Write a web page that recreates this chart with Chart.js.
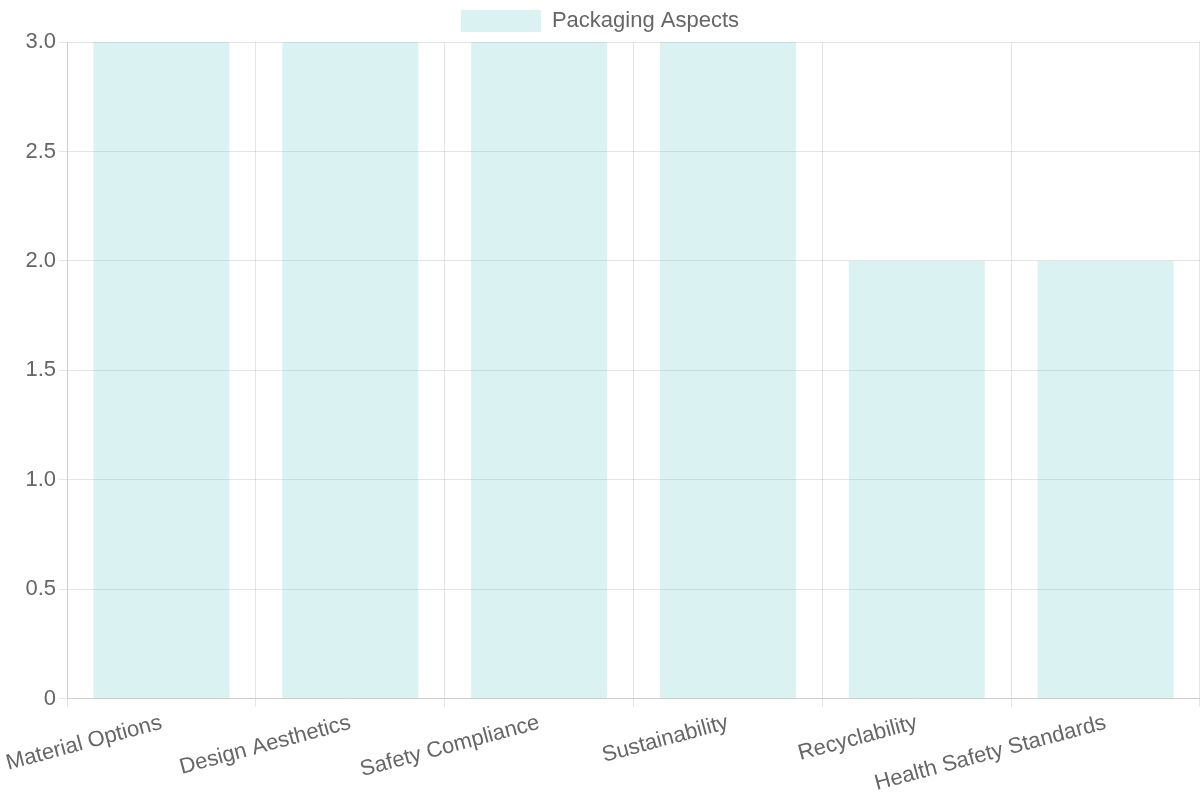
<!DOCTYPE html>
<html><head><meta charset="utf-8">
<script src="https://cdn.jsdelivr.net/npm/chart.js@4"></script>
<style>html,body{margin:0;padding:0;background:#fff}#w{width:1200px;height:800px}</style>
</head><body><div id="w"><canvas id="c"></canvas></div>
<script>
const categories = ["Material Options","Design Aesthetics","Safety Compliance","Sustainability","Recyclability","Health Safety Standards"];
const values = [3,3,3,3,2,2];
const seriesLabel = "Packaging Aspects";
Chart.defaults.font.family = "Liberation Sans, Arial, sans-serif";
Chart.defaults.font.size = 20;
Chart.defaults.color = "#666";
new Chart(document.getElementById('c'), {
  type: 'bar',
  data: { labels: categories, datasets: [{ label: seriesLabel, data: values,
    backgroundColor: 'rgba(75,192,192,0.2)', borderWidth: 0 }] },
  options: {
    responsive: true, maintainAspectRatio: false, animation: false,
    plugins: { legend: { labels: { font: { size: 22 }, boxWidth: 80, boxHeight: 22 } } },
    scales: {
      x: { ticks: { maxRotation: 15, minRotation: 15, font: { size: 22 } } },
      y: { beginAtZero: true, max: 3, ticks: { stepSize: 0.5, font: { size: 22 } } }
    }
  }
});
</script></body></html>
